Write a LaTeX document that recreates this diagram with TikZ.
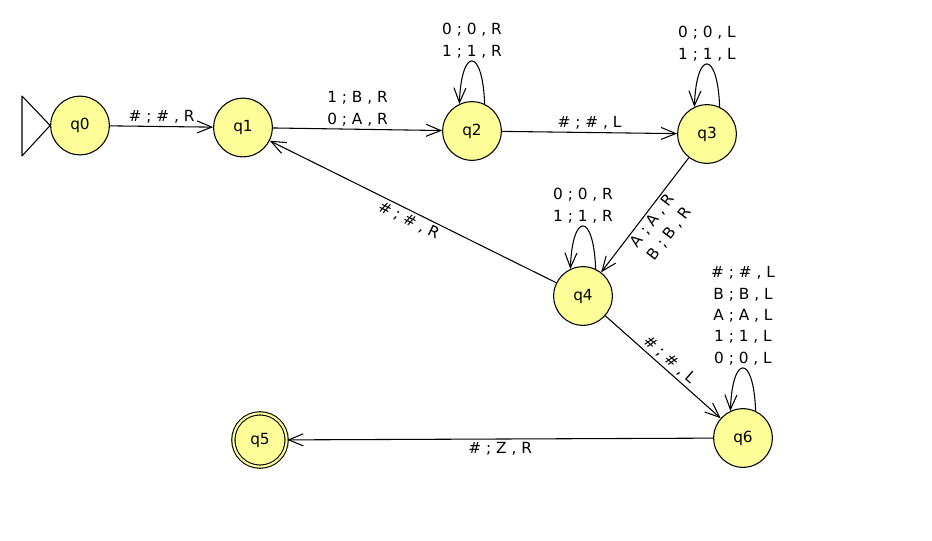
\documentclass[tikz,border=0pt]{standalone}
\usepackage{fontspec}
\setmainfont{DejaVu Sans}
\usetikzlibrary{arrows.meta}
\definecolor{stateyellow}{RGB}{255,255,153}
\tikzset{
  state/.style={circle, draw, fill=stateyellow, minimum size=44pt, inner sep=0pt},
  finalstate/.style={state, double=stateyellow, double distance=1.6pt, minimum size=40pt},
  lbl/.style={align=center, inner sep=2pt},
  selfloop/.style={out=92, in=88, looseness=5.8},
}
\begin{document}
\begin{tikzpicture}[x=0.75pt, y=-0.75pt, line width=0.8pt, line join=round,
    >={Straight Barb[length=11pt,width=9pt]}, font=\fontsize{11.5}{16}\selectfont]
  \useasboundingbox (0,0) rectangle (932,540);
  % states
  \node[state] (q0) at (80,125.5) {q0};
  \node[state] (q1) at (243,127.5) {q1};
  \node[state] (q2) at (472,131) {q2};
  \node[state] (q3) at (707,134) {q3};
  \node[state] (q4) at (583,296) {q4};
  \node[finalstate] (q5) at (260,440) {q5};
  \node[state] (q6) at (743,438) {q6};
  % start marker
  \coordinate (s1) at (22,96);
  \coordinate (s2) at (22,156);
  \draw (s1) -- (q0.west) -- (s2) -- cycle;
  % transitions
  \draw[->] (q0) -- node[lbl,above] {\# ; \# , R} (q1);
  \draw[->] (q1) -- node[lbl,above] {1 ; B , R\\0 ; A , R} (q2);
  \draw[->] (q2) -- node[lbl,above] {\# ; \# , L} (q3);
  \draw[->] (q3) -- node[lbl,sloped,below] {A ; A , R\\B ; B , R} (q4);
  \draw[->] (q4) -- node[lbl,sloped,below] {\# ; \# , R} (q1);
  \draw[->] (q4) -- node[lbl,sloped,above] {\# ; \# , L} (q6);
  \draw[->] (q6) -- node[lbl,below] {\# ; Z , R} (q5);
  % loops
  \draw[->] (q2.65) to[selfloop] node[lbl,above] {0 ; 0 , R\\1 ; 1 , R} (q2.115);
  \draw[->] (q3.65) to[selfloop] node[lbl,above] {0 ; 0 , L\\1 ; 1 , L} (q3.115);
  \draw[->] (q4.65) to[selfloop] node[lbl,above] {0 ; 0 , R\\1 ; 1 , R} (q4.115);
  \draw[->] (q6.65) to[selfloop] node[lbl,above] {\# ; \# , L\\B ; B , L\\A ; A , L\\1 ; 1 , L\\0 ; 0 , L} (q6.115);
\end{tikzpicture}
\end{document}
